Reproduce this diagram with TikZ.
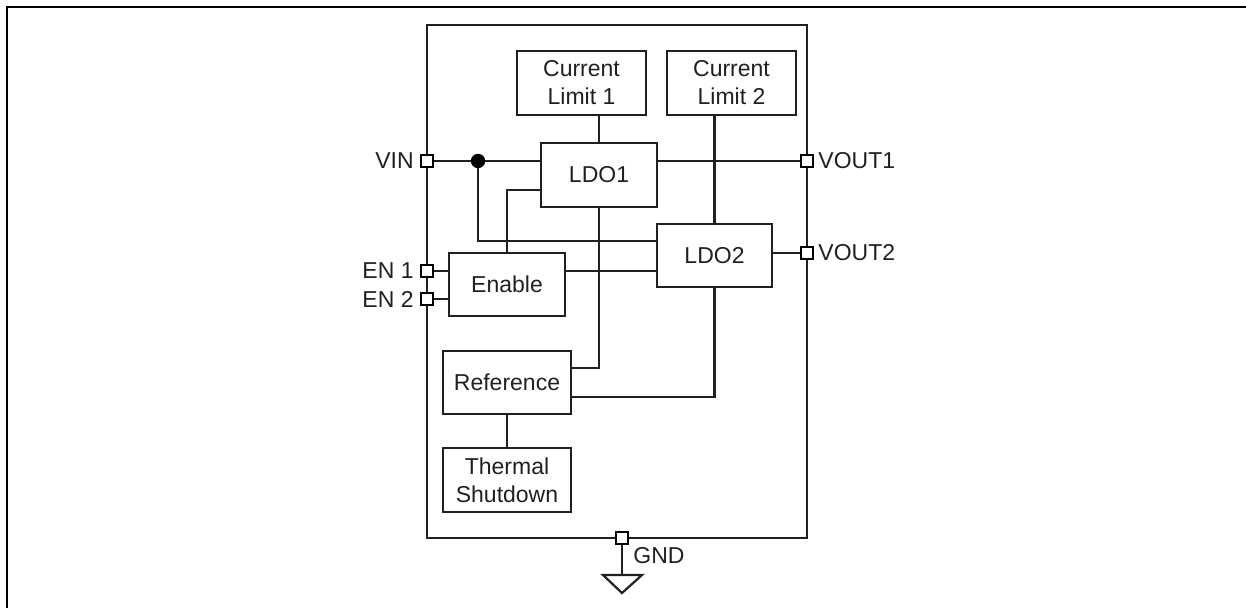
\documentclass[tikz,border=0pt]{standalone}
\usepackage{fontspec}
\setmainfont{Liberation Sans}
\definecolor{ink}{RGB}{35,31,32}
\begin{document}
\begin{tikzpicture}[x=0.5pt,y=-0.5pt,
  blk/.style={draw=ink,line width=1.1pt,inner sep=0pt,align=center,
    font=\fontsize{11.5}{14}\selectfont,text=ink},
  wire/.style={draw=ink,line width=1.1pt},
  pin/.style={draw=black,fill=white,line width=1.1pt,minimum size=6pt,inner sep=0pt},
  lbl/.style={font=\fontsize{11.5}{14}\selectfont,text=ink,inner sep=0pt}]
\useasboundingbox (0,0) rectangle (1246,608);
% outer frame
\draw[black,line width=1.4pt] (7,620) -- (7,7) -- (1260,7);
% chip
\draw[ink,line width=1.3pt] (427,25) rectangle (807,538);
% blocks
\node[blk,minimum width=64.5pt,minimum height=32pt] (cl1) at (581.5,83) {Current\\Limit 1};
\node[blk,minimum width=64.5pt,minimum height=32pt] (cl2) at (731.5,83) {Current\\Limit 2};
\node[blk,minimum width=58pt,minimum height=32pt] (ldo1) at (599,175) {LDO1};
\node[blk,minimum width=57.5pt,minimum height=31.5pt] (ldo2) at (714.5,255.5) {LDO2};
\node[blk,minimum width=58pt,minimum height=31.5pt] (en) at (507,284.5) {Enable};
\node[blk,minimum width=64pt,minimum height=31.5pt] (ref) at (507,382.5) {Reference};
\node[blk,minimum width=64pt,minimum height=32pt] (ts) at (507,480) {Thermal\\Shutdown};
% named points on block edges
\coordinate (j) at (478,161);
\coordinate (l1b) at (541,190);
\coordinate (l1o) at (657,161);
\coordinate (l2a) at (657,241);
\coordinate (l2b) at (657,271);
\coordinate (l2o) at (772,253);
\coordinate (enr) at (565,271);
\coordinate (enl1) at (449,271);
\coordinate (enl2) at (449,299);
\coordinate (r1) at (571,368);
\coordinate (r2) at (571,397);
\coordinate (gt) at (622,575);
% wires
\draw[wire] (427,161) coordinate (vinp) -- (vinp -| ldo1.west);
\draw[wire] (j) |- (l2a);
\draw[wire] (l1b) -| (en.north);
\draw[wire] (enr) -- (l2b);
\draw[wire] (427,271) coordinate (en1p) -- (enl1);
\draw[wire] (427,299) coordinate (en2p) -- (enl2);
\draw[wire] (l1o) -- (807,161) coordinate (vo1p);
\draw[wire] (l2o) -- (807,253) coordinate (vo2p);
\draw[wire] (ldo1.north) -- (ldo1.north |- cl1.south);
\draw[wire] (ldo2.north) -- (ldo2.north |- cl2.south);
\draw[wire] (ldo1.south) |- (r1);
\draw[wire] (r2) -| (ldo2.south);
\draw[wire] (ref.south) -- (ts.north);
\draw[wire] (622,538) coordinate (gndp) -- (gt);
\draw[wire,line join=miter] (603,575) -- (642,575) -- (622,593) -- cycle;
\fill[black] (j) circle (3.6pt);
% pins
\node[pin] (vin) at (vinp) {};
\node[pin] (en1) at (en1p) {};
\node[pin] (en2) at (en2p) {};
\node[pin] (vo1) at (vo1p) {};
\node[pin] (vo2) at (vo2p) {};
\node[pin] (gnd) at (gndp) {};
% labels
\node[lbl,anchor=east] (tvin) at (414,161) {VIN};
\node[lbl,anchor=east] (ten1) at (414,271) {EN 1};
\node[lbl,anchor=east] (ten2) at (414,299) {EN 2};
\node[lbl,anchor=west] (tvo1) at (818,161) {VOUT1};
\node[lbl,anchor=west] (tvo2) at (818,253) {VOUT2};
\node[lbl,anchor=west] (tgnd) at (633,556) {GND};
\end{tikzpicture}
\end{document}
